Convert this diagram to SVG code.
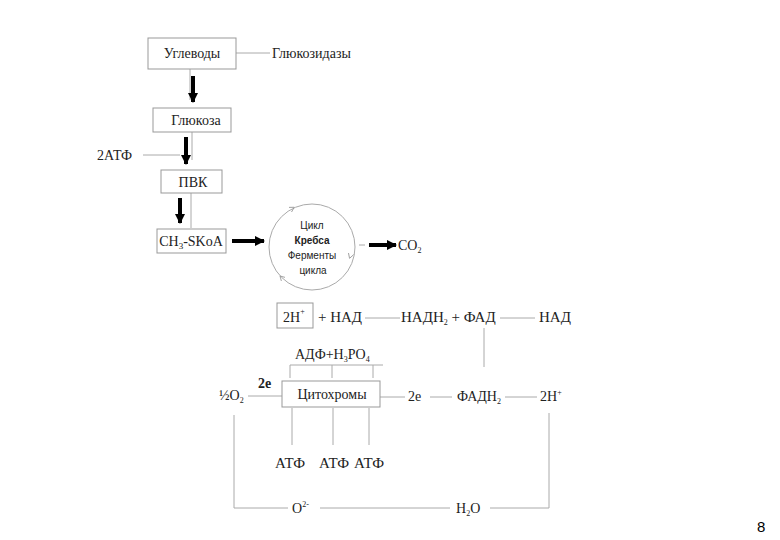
<svg xmlns="http://www.w3.org/2000/svg" width="780" height="540" viewBox="0 0 780 540">
<defs>
<style>
.t{font-family:"Liberation Serif","Times New Roman",serif;font-size:14px;fill:#222}
.b{font-size:15px}
.s{font-family:"Liberation Sans",Arial,sans-serif;font-size:10px;fill:#222}
.box{fill:#fff;stroke:#999;stroke-width:1}
.ln{stroke:#aaa;stroke-width:1;fill:none}
.thick{stroke:#000;stroke-width:4;fill:none}
</style>
<marker id="ah" viewBox="0 0 10 10" refX="9" refY="5" markerWidth="2.6" markerHeight="2.6" orient="auto" markerUnits="strokeWidth">
<path d="M0,0 L10,5 L0,10 z" fill="#000"/>
</marker>
<marker id="sm" viewBox="0 0 10 10" refX="5" refY="5" markerWidth="7" markerHeight="7" orient="auto" markerUnits="userSpaceOnUse">
<path d="M0,1 L7,5 L0,9" fill="none" stroke="#999" stroke-width="1.2"/>
</marker>
</defs>
<rect width="780" height="540" fill="#fff"/>

<g id="connectors">
<line class="ln" x1="236" y1="53" x2="270" y2="53"/>
<line class="ln" x1="190" y1="69" x2="190" y2="100"/>
<line class="thick" x1="193" y1="76" x2="193" y2="102" marker-end="url(#ah)"/>
<line class="ln" x1="192" y1="132" x2="192" y2="160"/>
<line class="ln" x1="143" y1="155" x2="180" y2="155"/>
<line class="thick" x1="186" y1="137" x2="186" y2="164" marker-end="url(#ah)"/>
<line class="ln" x1="191" y1="193" x2="191" y2="228"/>
<line class="thick" x1="180" y1="198" x2="180" y2="223" marker-end="url(#ah)"/>
<line class="thick" x1="232" y1="241" x2="264" y2="241" marker-end="url(#ah)"/>
<line class="ln" x1="359" y1="245" x2="365" y2="245"/>
<line class="thick" x1="369" y1="245" x2="396" y2="245" marker-end="url(#ah)"/>
<line class="ln" x1="365" y1="318" x2="400" y2="318"/>
<line class="ln" x1="500" y1="318" x2="535" y2="318"/>
<line class="ln" x1="484" y1="328" x2="484" y2="367"/>
<line class="ln" x1="290" y1="365" x2="383" y2="365"/>
<line class="ln" x1="290" y1="365" x2="290" y2="378"/>
<line class="ln" x1="332" y1="365" x2="332" y2="378"/>
<line class="ln" x1="373" y1="365" x2="373" y2="378"/>
<line class="ln" x1="248" y1="396" x2="282" y2="396"/>
<line class="ln" x1="380" y1="397" x2="405" y2="397"/>
<line class="ln" x1="430" y1="397" x2="452" y2="397"/>
<line class="ln" x1="505" y1="397" x2="537" y2="397"/>
<line class="ln" x1="292" y1="408" x2="292" y2="445"/>
<line class="ln" x1="333" y1="408" x2="333" y2="445"/>
<line class="ln" x1="369" y1="408" x2="369" y2="445"/>
<polyline class="ln" points="234,415 234,508 288,508"/>
<line class="ln" x1="320" y1="508" x2="450" y2="508"/>
<polyline class="ln" points="490,508 549,508 549,413"/>
</g>

<g id="n-uglevody">
<rect class="box" x="148" y="38" width="88" height="31"/>
<text class="t" x="192" y="58" text-anchor="middle" font-size="14.5">Углеводы</text>
</g>
<g id="n-glukozidazy">
<text class="t" x="272" y="58" font-size="15.5">Глюкозидазы</text>
</g>
<g id="n-glukoza">
<rect class="box" x="153" y="108" width="78" height="24"/>
<text class="t" x="196" y="125" text-anchor="middle" font-size="14.5">Глюкоза</text>
</g>
<g id="n-2atf">
<text class="t" x="97" y="160" font-size="15">2АТФ</text>
</g>
<g id="n-pvk">
<rect class="box" x="161" y="170" width="61" height="23"/>
<text class="t" x="193" y="187" text-anchor="middle">ПВК</text>
</g>
<g id="n-ch3skoa">
<rect class="box" x="157" y="229" width="69" height="24"/>
<text class="t" x="191" y="246" text-anchor="middle">CH<tspan font-size="9" dy="3">3</tspan><tspan dy="-3">-SKoA</tspan></text>
</g>
<g id="n-krebs">
<circle cx="312" cy="247" r="43" fill="none" stroke="#aaa" stroke-width="1"/>
<path d="M288,211 L293,208" fill="none" marker-end="url(#sm)" stroke="none"/>
<path d="M352,251 L350,257" fill="none" marker-end="url(#sm)" stroke="none"/>
<path d="M285,281 L281,277" fill="none" marker-end="url(#sm)" stroke="none"/>
<text class="s" x="312" y="229" text-anchor="middle">Цикл</text>
<text class="s" x="312" y="244" text-anchor="middle" font-weight="bold">Кребса</text>
<text class="s" x="312" y="259" text-anchor="middle">Ферменты</text>
<text class="s" x="313" y="274" text-anchor="middle">цикла</text>
</g>
<g id="n-co2">
<text class="t" x="398" y="250">CO<tspan font-size="8" dy="3">2</tspan></text>
</g>
<g id="n-2h">
<rect class="box" x="277" y="303" width="36" height="25"/>
<text class="t" x="283" y="322" font-size="17">2H<tspan font-size="8" dy="-8">+</tspan></text>
</g>
<g id="n-nad1">
<text class="t b" x="318" y="322">+ НАД</text>
</g>
<g id="n-nadh2fad">
<text class="t b" x="401" y="322">НАДН<tspan font-size="8" dy="3">2</tspan><tspan dy="-3"> + ФАД</tspan></text>
</g>
<g id="n-nad2">
<text class="t b" x="539" y="322">НАД</text>
</g>
<g id="n-adf">
<text class="t" x="295" y="359">АДФ+H<tspan font-size="8" dy="3">3</tspan><tspan dy="-3">PO</tspan><tspan font-size="8" dy="3">4</tspan></text>
</g>
<g id="n-halfo2">
<text class="t" x="219" y="400" font-size="12.5">½O<tspan font-size="8" dy="3">2</tspan></text>
</g>
<g id="n-2e-left">
<text class="t" x="258" y="388" font-weight="bold" font-size="13">2e</text>
</g>
<g id="n-cytochromes">
<rect class="box" x="282" y="381" width="98" height="26"/>
<text class="t" x="332" y="399" text-anchor="middle" font-size="14.5">Цитохромы</text>
</g>
<g id="n-2e-right">
<text class="t" x="408" y="401">2e</text>
</g>
<g id="n-fadh2">
<text class="t" x="457" y="401">ФАДН<tspan font-size="8" dy="3">2</tspan></text>
</g>
<g id="n-2h-right">
<text class="t" x="540" y="401">2H<tspan font-size="8" dy="-6">+</tspan></text>
</g>
<g id="n-atf1"><text class="t b" x="290" y="468" text-anchor="middle">АТФ</text></g>
<g id="n-atf2"><text class="t b" x="334" y="468" text-anchor="middle">АТФ</text></g>
<g id="n-atf3"><text class="t b" x="369" y="468" text-anchor="middle">АТФ</text></g>
<g id="n-o2minus">
<text class="t" x="292" y="513">O<tspan font-size="8" dy="-6">2-</tspan></text>
</g>
<g id="n-h2o">
<text class="t" x="456" y="513">H<tspan font-size="8" dy="3">2</tspan><tspan dy="-3">O</tspan></text>
</g>
<text x="757" y="532" font-family="Liberation Sans,Arial,sans-serif" font-size="15" fill="#000">8</text>
</svg>
